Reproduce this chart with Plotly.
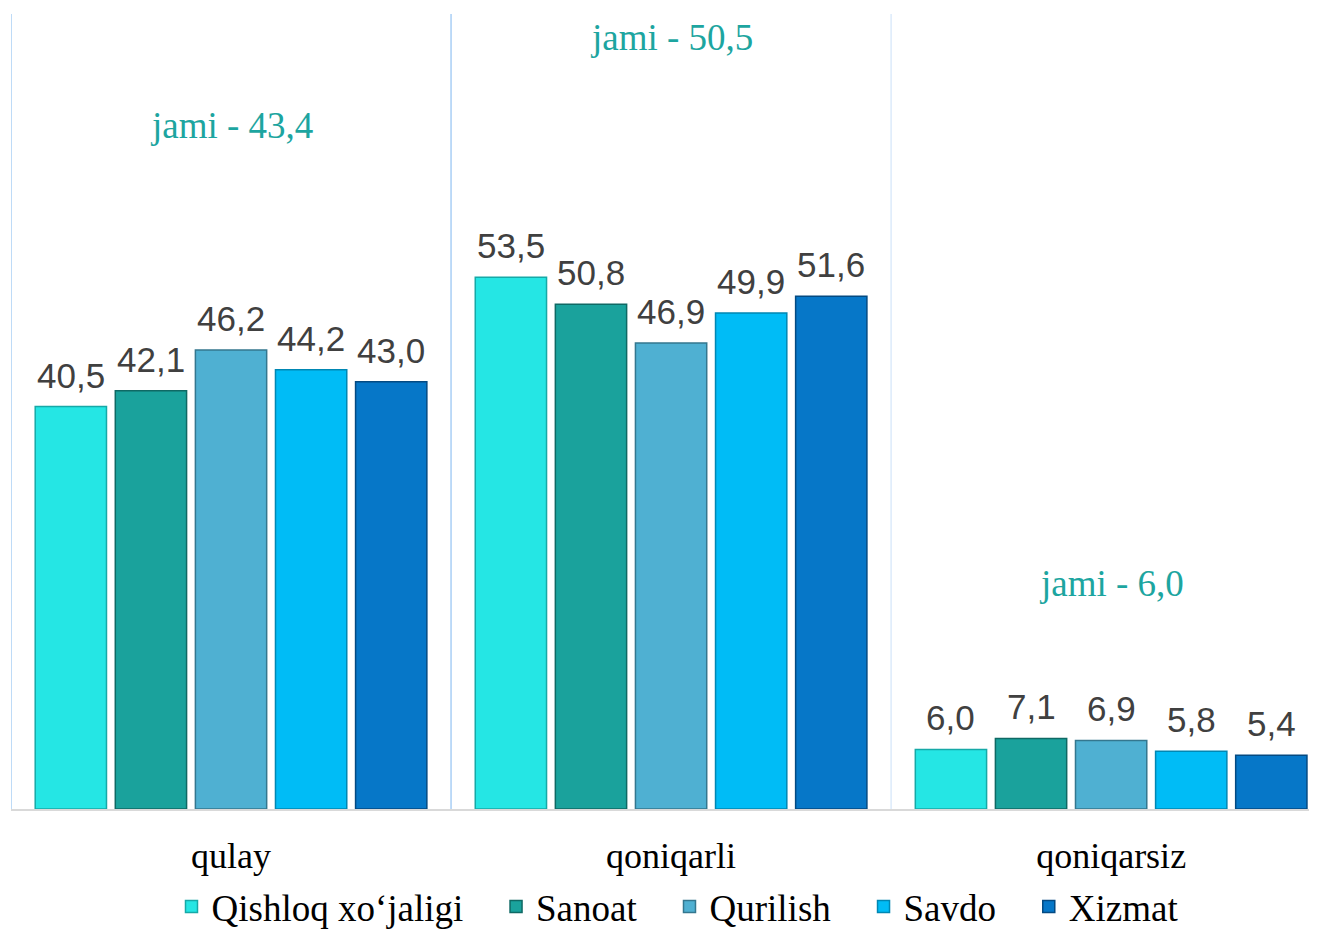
import plotly.graph_objects as go

categories = ["qulay", "qoniqarli", "qoniqarsiz"]
series_names = ["Qishloq xo\u2018jaligi", "Sanoat", "Qurilish", "Savdo", "Xizmat"]
qishloq = [40.5, 53.5, 6.0]
sanoat = [42.1, 50.8, 7.1]
qurilish = [46.2, 46.9, 6.9]
savdo = [44.2, 49.9, 5.8]
xizmat = [43.0, 51.6, 5.4]
jami = [43.4, 50.5, 6.0]
jami_label_y = [68.8, 77.6, 22.7]

series_values = [qishloq, sanoat, qurilish, savdo, xizmat]
colors = ["#25E6E4", "#1AA29C", "#4FB0D2", "#00BCF6", "#0677C8"]
edge_colors = ["#16A9A7", "#0F6964", "#34778F", "#0087B3", "#044A82"]

xs = list(range(len(categories)))
bargap = 0.09
bargroupgap = 0.11
SERIF = "Liberation Serif"
SANS = "Liberation Sans"
PAD = "\u00a0\u00a0\u00a0"

fig = go.Figure()
for name, vals, c, ec in zip(series_names, series_values, colors, edge_colors):
    fig.add_trace(go.Bar(
        x=xs, y=vals, name=name + PAD,
        marker=dict(color=c, line=dict(color=ec, width=1.5)),
    ))

def fmt(v):
    return f"{v:.1f}".replace(".", ",")

annotations = []
n = len(series_values)
slot = (1 - bargap) / n
for j, vals in enumerate(series_values):
    for i, v in enumerate(vals):
        annotations.append(dict(
            x=i + (j - (n - 1) / 2) * slot, y=v, xref="x", yref="y",
            text=fmt(v), showarrow=False, yanchor="bottom", yshift=10,
            font=dict(family=SANS, size=35, color="#404040"),
        ))
for i, v in enumerate(jami):
    annotations.append(dict(
        x=i, y=jami_label_y[i], xref="x", yref="y",
        text=f"jami - {fmt(v)}", showarrow=False, yanchor="middle",
        font=dict(family=SERIF, size=37, color="#1DA5A0"),
    ))

shapes = []
sep_colors = ["#A9CFF5", "#A9CFF5", "#DCEBFB"]
for k, xv in enumerate([-0.5, 0.5, 1.5]):
    shapes.append(dict(type="line", xref="x", yref="y", x0=xv, x1=xv, y0=0, y1=80,
                       line=dict(color=sep_colors[k], width=1.5), layer="below"))

fig.update_layout(
    width=1317, height=931,
    margin=dict(l=3, r=0, t=6, b=130, autoexpand=False),
    paper_bgcolor="white", plot_bgcolor="white",
    barmode="group", bargap=bargap, bargroupgap=bargroupgap,
    xaxis=dict(
        tickmode="array", tickvals=xs, ticktext=categories,
        range=[-0.5, 2.486], showgrid=False, zeroline=False,
        showline=True, linecolor="#D9D9D9", linewidth=2,
        ticks="", ticklabelstandoff=14,
        tickfont=dict(family=SERIF, size=36, color="#000000"),
    ),
    yaxis=dict(range=[0, 80], visible=False, showgrid=False, zeroline=False),
    legend=dict(
        orientation="h", xanchor="center", x=0.5175, yanchor="middle", y=-0.1233,
        font=dict(family=SERIF, size=37, color="#000000"),
        itemwidth=30, tracegroupgap=0, bgcolor="rgba(0,0,0,0)",
    ),
    annotations=annotations,
    shapes=shapes,
    showlegend=True,
)

fig.write_html("out.html")
